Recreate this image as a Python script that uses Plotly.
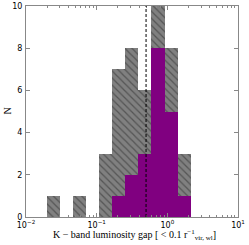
import numpy as np
import plotly.graph_objects as go

# histogram bins in log10(gap)
bin_start_log = -1.7075
bin_width_log = 0.1854
n_bins = 11
all_counts = [1, 0, 1, 0, 3, 7, 8, 6, 10, 8, 3]
sub_counts = [0, 0, 0, 0, 0, 1, 2, 3, 8, 5, 1]
vline_value = 0.5
x_tick_vals = [-2, -1, 0, 1]
x_tick_text = ["10<sup>−2</sup>", "10<sup>−1</sup>", "10<sup>0</sup>", "10<sup>1</sup>"]
y_ticks = [0, 2, 4, 6, 8, 10]
x_title = "K − band luminosity gap [ < 0.1 r<sup>−1</sup><sub>vir, wl</sub>]"
y_title = "N"

centers = bin_start_log + bin_width_log * (np.arange(n_bins) + 0.5)
minor_vals = [np.log10(k * 10.0 ** d) for d in range(-2, 1) for k in range(2, 10)]

fig = go.Figure()
fig.add_trace(go.Bar(
    x=centers, y=all_counts, width=bin_width_log,
    marker=dict(color="#808080", line=dict(width=0),
                pattern=dict(shape="\\", fgcolor="#2a2a2a", bgcolor="#808080",
                             size=5, solidity=0.25)),
    showlegend=False, hoverinfo="skip"))
fig.add_trace(go.Bar(
    x=centers, y=sub_counts, width=bin_width_log,
    marker=dict(color="#800080", line=dict(width=0)),
    showlegend=False, hoverinfo="skip"))

fig.add_shape(type="line", x0=np.log10(vline_value), x1=np.log10(vline_value),
              y0=0, y1=1, yref="paper", line=dict(color="black", width=1, dash="3px,2px"))

axis_common = dict(showline=True, linecolor="#888888", linewidth=1, mirror="ticks",
                   ticks="inside", tickcolor="#888888", ticklen=4, showgrid=False,
                   zeroline=False, automargin=False,
                   tickfont=dict(family="DejaVu Sans", size=8, color="black"))

fig.update_layout(
    width=249, height=245,
    margin=dict(l=26, r=11, t=6, b=28),
    paper_bgcolor="white", plot_bgcolor="white",
    barmode="overlay", bargap=0,
    xaxis=dict(range=[-2, 1], tickmode="array", tickvals=x_tick_vals, ticktext=x_tick_text,
               ticklabelstandoff=0,
               minor=dict(tickmode="array", tickvals=minor_vals, ticks="inside",
                          ticklen=2, tickcolor="#888888"),
               **axis_common),
    yaxis=dict(range=[0, 10], tickmode="array", tickvals=y_ticks, ticklabelstandoff=1,
               **axis_common),
    annotations=[
        dict(text=x_title, xref="paper", yref="paper", x=0.51, y=0, yshift=-9,
             xanchor="center", yanchor="top", showarrow=False,
             font=dict(family="Liberation Serif", size=10, color="black")),
        dict(text=y_title, xref="paper", yref="paper", x=0, xshift=-19, y=0.5,
             xanchor="center", yanchor="middle", showarrow=False, textangle=-90,
             font=dict(family="Liberation Serif", size=10, color="black")),
    ],
)

fig.write_html("out.html", config={"displayModeBar": False},
               post_script="document.body.style.margin='0';")
